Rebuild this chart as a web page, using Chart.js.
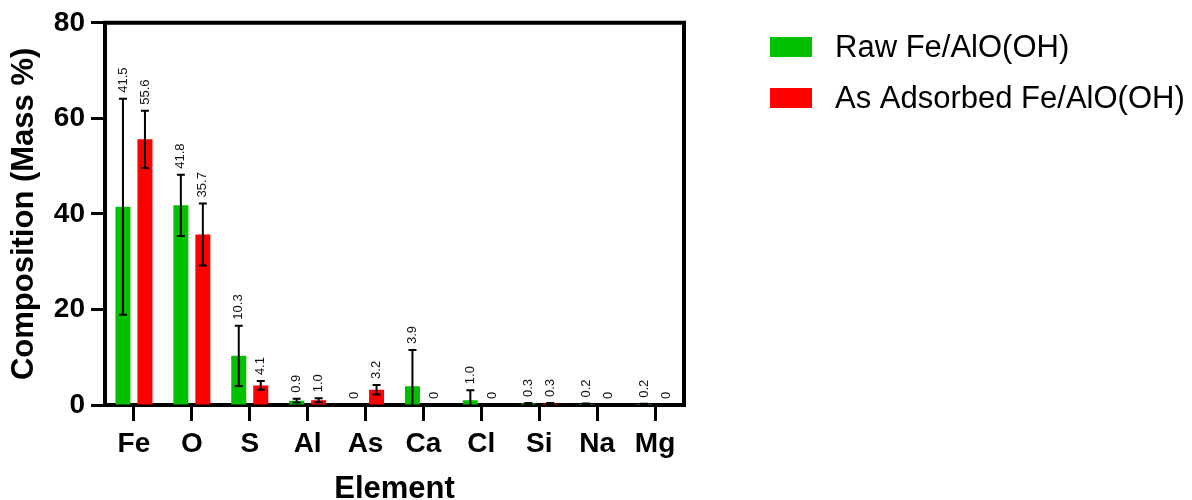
<!DOCTYPE html>
<html>
<head>
<meta charset="utf-8">
<script src="https://cdn.jsdelivr.net/npm/chart.js@4"></script>
<style>
  html, body { margin: 0; padding: 0; background: #fff; }
  #wrap { width: 1192px; height: 500px; position: relative; }
</style>
</head>
<body>
<div id="wrap"><canvas id="c" width="1192" height="500"></canvas></div>
<script>
const categories = ['Fe', 'O', 'S', 'Al', 'As', 'Ca', 'Cl', 'Si', 'Na', 'Mg'];
const rawValues = [41.5, 41.8, 10.3, 0.9, 0, 3.9, 1.0, 0.3, 0.2, 0.2];
const rawErrors = [22.6, 6.4, 6.3, 0.4, 0, 7.6, 2.1, 0.1, 0.1, 0.05];
const adsValues = [55.6, 35.7, 4.1, 1.0, 3.2, 0, 0, 0.3, 0, 0];
const adsErrors = [6.0, 6.5, 0.9, 0.4, 1.0, 0, 0, 0.1, 0, 0];
const yTickValues = [0, 20, 40, 60, 80];
const seriesNames = ['Raw Fe/AlO(OH)', 'As Adsorbed Fe/AlO(OH)'];

const FONT = '"Liberation Sans", Arial, Helvetica, sans-serif';
const GREEN = 'rgb(0,192,0)';
const RED = 'rgb(255,0,0)';

const errorBarPlugin = {
  id: 'errorBars',
  afterDatasetsDraw(chart) {
    const ctx = chart.ctx;
    const y = chart.scales.y;
    const area = chart.chartArea;
    chart.data.datasets.forEach((ds, di) => {
      const meta = chart.getDatasetMeta(di);
      meta.data.forEach((bar, i) => {
        const v = ds.data[i];
        const e = ds.errors[i];
        const x = bar.x;
        let topPx = y.getPixelForValue(v);
        if (e > 0) {
          const hi = y.getPixelForValue(v + e);
          const loRaw = y.getPixelForValue(v - e);
          const lo = Math.min(loRaw, area.bottom);
          ctx.save();
          ctx.strokeStyle = '#000';
          ctx.lineWidth = 2;
          ctx.beginPath();
          ctx.moveTo(x, hi);
          ctx.lineTo(x, lo);
          ctx.moveTo(x - 4, hi);
          ctx.lineTo(x + 4, hi);
          if (loRaw < area.bottom) {
            ctx.moveTo(x - 4, lo);
            ctx.lineTo(x + 4, lo);
          }
          ctx.stroke();
          ctx.restore();
          topPx = hi;
        }
        const txt = v === 0 ? '0' : v.toFixed(1);
        ctx.save();
        ctx.translate(x, topPx - 6);
        ctx.rotate(-Math.PI / 2);
        ctx.font = '13px ' + FONT;
        ctx.fillStyle = '#111';
        ctx.textAlign = 'left';
        ctx.textBaseline = 'middle';
        ctx.fillText(txt, 0, 0);
        ctx.restore();
      });
    });
  }
};

const framePlugin = {
  id: 'frame',
  afterDraw(chart) {
    const {ctx, chartArea: a} = chart;
    ctx.save();
    ctx.strokeStyle = '#000';
    ctx.lineWidth = 4;
    ctx.lineCap = 'square';
    ctx.beginPath();
    ctx.moveTo(a.left, a.top);
    ctx.lineTo(a.right, a.top);
    ctx.lineTo(a.right, a.bottom);
    ctx.stroke();
    ctx.restore();
  }
};

const legendPlugin = {
  id: 'customLegend',
  afterDraw(chart) {
    const ctx = chart.ctx;
    chart.data.datasets.forEach((ds, i) => {
      const top = 37 + i * 51;
      ctx.save();
      ctx.fillStyle = ds.backgroundColor;
      ctx.fillRect(770, top, 42, 20);
      ctx.fillStyle = '#000';
      ctx.font = '31px ' + FONT;
      ctx.textAlign = 'left';
      ctx.textBaseline = 'middle';
      ctx.fillText(ds.label, 835, top + 11);
      ctx.restore();
    });
  }
};

new Chart(document.getElementById('c'), {
  type: 'bar',
  data: {
    labels: categories,
    datasets: [
      { label: seriesNames[0], data: rawValues, errors: rawErrors, backgroundColor: GREEN,
        categoryPercentage: 0.76, barPercentage: 0.682 },
      { label: seriesNames[1], data: adsValues, errors: adsErrors, backgroundColor: RED,
        categoryPercentage: 0.76, barPercentage: 0.682 }
    ]
  },
  options: {
    responsive: false,
    animation: false,
    events: [],
    layout: { padding: { top: 22, right: 508, left: 0, bottom: 0 } },
    plugins: {
      legend: { display: false },
      tooltip: { enabled: false }
    },
    scales: {
      x: {
        grid: { display: true, drawOnChartArea: false, drawTicks: true, offset: false,
                tickLength: 16, tickWidth: 3, tickColor: '#000' },
        border: { display: true, width: 4, color: '#000' },
        ticks: { color: '#000', font: { family: FONT, size: 28, weight: 'bold' }, padding: 6, maxRotation: 0 },
        title: { display: true, text: 'Element', color: '#000',
                 font: { family: FONT, size: 31, weight: 'bold', lineHeight: 1 }, padding: { top: 0, bottom: -5 } },
        afterFit(scale) { scale.height = 95; }
      },
      y: {
        min: 0, max: 80,
        afterBuildTicks(scale) { scale.ticks = yTickValues.map(v => ({ value: v })); },
        grid: { display: true, drawOnChartArea: false, drawTicks: true,
                tickLength: 14, tickWidth: 3, tickColor: '#000' },
        border: { display: true, width: 4, color: '#000' },
        ticks: { color: '#000', font: { family: FONT, size: 28, weight: 'bold' }, padding: 6 },
        title: { display: true, text: 'Composition (Mass %)', color: '#000',
                 font: { family: FONT, size: 31, weight: 'bold', lineHeight: 1.2 }, padding: { top: 6, bottom: 0 } },
        afterFit(scale) { scale.width = 105; }
      }
    }
  },
  plugins: [errorBarPlugin, framePlugin, legendPlugin]
});
</script>
</body>
</html>
